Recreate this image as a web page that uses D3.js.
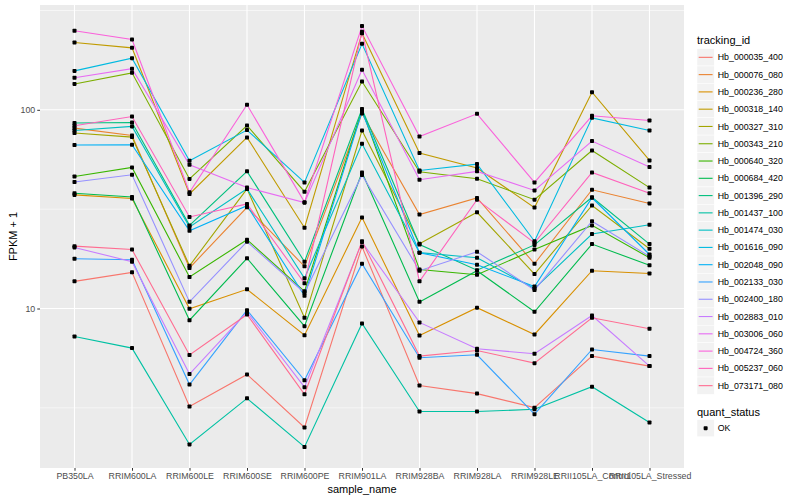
<!DOCTYPE html>
<html lang="en">
<head>
  <meta charset="UTF-8">
  <title>FPKM by sample</title>
  <script src="https://d3js.org/d3.v7.min.js"></script>
  <style>
    body { margin: 0; background: #fff; }
    svg text { font-family: "Liberation Sans", Arial, sans-serif; }
  </style>
</head>
<body>
  <div id="chart"></div>
  <script>
    // sample names along the x axis
    const samples = ["PB350LA", "RRIM600LA", "RRIM600LE", "RRIM600SE", "RRIM600PE", "RRIM901LA",
                     "RRIM928BA", "RRIM928LA", "RRIM928LE", "RRII105LA_Control", "RRII105LA_Stressed"];

    const trackingIds = ["Hb_000035_400", "Hb_000076_080", "Hb_000236_280", "Hb_000318_140", "Hb_000327_310",
                         "Hb_000343_210", "Hb_000640_320", "Hb_000684_420", "Hb_001396_290", "Hb_001437_100",
                         "Hb_001474_030", "Hb_001616_090", "Hb_002048_090", "Hb_002133_030", "Hb_002400_180",
                         "Hb_002883_010", "Hb_003006_060", "Hb_004724_360", "Hb_005237_060", "Hb_073171_080"];

    // FPKM + 1 per sample, one array per gene
    const hb_000035_400 = [13.7, 15.2, 3.21, 4.66, 2.52, 20.5, 4.10, 3.73, 3.17, 5.76, 5.13];
    const hb_000076_080 = [80.9, 74.3, 16.0, 32.3, 16.3, 95.8, 29.7, 36.0, 16.8, 39.6, 33.8];
    const hb_000236_280 = [37.3, 35.8, 9.97, 12.5, 7.34, 28.7, 7.32, 10.1, 7.40, 15.5, 15.0];
    const hb_000318_140 = [218, 205, 37.7, 72.6, 25.5, 243, 60.6, 50.9, 32.2, 122.7, 55.6];
    const hb_000327_310 = [76.4, 72.9, 16.4, 40.0, 8.98, 78.7, 21.2, 30.5, 14.9, 33.0, 20.0];
    const hb_000343_210 = [135, 153.5, 44.9, 83.4, 38.7, 138.8, 48.8, 45.0, 35.3, 62.4, 40.6];
    const hb_000640_320 = [46.2, 51.3, 14.4, 22.2, 12.2, 100, 15.7, 14.8, 19.8, 26.2, 18.0];
    const hb_000684_420 = [38.0, 36.4, 8.73, 17.9, 8.15, 48.4, 10.8, 15.5, 9.63, 21.1, 16.5];
    const hb_001396_290 = [85.8, 86.4, 26.2, 49.0, 17.2, 101, 21.0, 15.6, 20.9, 36.3, 21.1];
    const hb_001437_100 = [7.23, 6.32, 2.07, 3.53, 2.01, 8.41, 3.03, 3.03, 3.11, 4.04, 2.67];
    const hb_001474_030 = [78.7, 82.5, 25.7, 40.0, 14.2, 67.5, 19.1, 18.0, 12.6, 23.7, 26.4];
    const hb_001616_090 = [157, 182, 55.4, 79.1, 43.1, 215, 49.5, 53.3, 21.8, 91.1, 78.7];
    const hb_002048_090 = [66.5, 66.7, 24.6, 32.9, 11.6, 97.7, 19.1, 16.6, 12.9, 36.1, 18.7];
    const hb_002133_030 = [17.8, 17.6, 4.14, 9.81, 4.35, 16.8, 5.65, 5.85, 2.94, 6.22, 5.76];
    const hb_002400_180 = [43.3, 47.1, 10.8, 21.7, 12.0, 47.0, 15.5, 19.3, 12.4, 27.5, 18.3];
    const hb_002883_010 = [20.3, 17.2, 4.68, 9.58, 4.02, 21.6, 8.51, 6.27, 5.92, 9.22, 5.13];
    const hb_003006_060 = [145, 161, 52.9, 40.6, 34.1, 159, 44.5, 49.0, 39.3, 69.6, 51.5];
    const hb_004724_360 = [250, 226, 38.5, 106, 34.3, 264, 73.4, 95.5, 43.1, 93.3, 88.4];
    const hb_005237_060 = [83.1, 92.5, 28.9, 33.6, 13.4, 247, 13.7, 35.3, 21.4, 48.4, 38.0];
    const hb_073171_080 = [20.6, 19.8, 5.83, 9.33, 3.70, 21.8, 5.76, 6.15, 5.31, 8.98, 7.91];

    const seriesValues = [hb_000035_400, hb_000076_080, hb_000236_280, hb_000318_140, hb_000327_310,
                          hb_000343_210, hb_000640_320, hb_000684_420, hb_001396_290, hb_001437_100,
                          hb_001474_030, hb_001616_090, hb_002048_090, hb_002133_030, hb_002400_180,
                          hb_002883_010, hb_003006_060, hb_004724_360, hb_005237_060, hb_073171_080];

    const quantStatus = ["OK"];
    const yTicks = [10, 100];

    // ggplot default hue palette for 20 levels
    const colors = ["#F8766D", "#EA8331", "#D89000", "#C09B00", "#A3A500", "#7CAE00", "#39B600",
                    "#00BB4E", "#00BF7D", "#00C1A3", "#00BFC4", "#00BAE0", "#00B0F6", "#35A2FF",
                    "#9590FF", "#C77CFF", "#E76BF3", "#FA62DB", "#FF62BC", "#FF6C91"];

    const width = 800, height = 500;
    const panel = { left: 40, right: 684, top: 5, bottom: 468 };

    const svg = d3.select("#chart").append("svg")
                  .attr("width", width)
                  .attr("height", height);

    const series = trackingIds.map((id, i) => ({
      id: id,
      color: colors[i],
      values: seriesValues[i].map((v, j) => ({ sample: samples[j], value: v }))
    }));

    // x: discrete with 0.6 expansion on both sides
    const x = d3.scalePoint()
                .domain(samples)
                .range([panel.left, panel.right])
                .padding(0.6);

    // y: log10 with 5% expansion in log space
    const allVals = seriesValues.flat();
    const lo = Math.log10(d3.min(allVals)), hi = Math.log10(d3.max(allVals));
    const pad = (hi - lo) * 0.05;
    const y = d3.scaleLog()
                .domain([Math.pow(10, lo - pad), Math.pow(10, hi + pad)])
                .range([panel.bottom, panel.top]);

    // panel background
    svg.append("rect")
       .attr("x", panel.left).attr("y", panel.top)
       .attr("width", panel.right - panel.left)
       .attr("height", panel.bottom - panel.top)
       .attr("fill", "#EBEBEB");

    // minor grid at the log midpoints
    const minor = [0.5, 1.5, 2.5].map(e => Math.pow(10, e))
                    .filter(v => v >= y.domain()[0] && v <= y.domain()[1]);
    svg.selectAll("line.minor")
       .data(minor)
       .join("line")
       .attr("x1", panel.left).attr("x2", panel.right)
       .attr("y1", d => y(d)).attr("y2", d => y(d))
       .attr("stroke", "#fff").attr("stroke-width", 0.55);

    svg.selectAll("line.majory")
       .data(yTicks)
       .join("line")
       .attr("x1", panel.left).attr("x2", panel.right)
       .attr("y1", d => y(d)).attr("y2", d => y(d))
       .attr("stroke", "#fff").attr("stroke-width", 1.1);

    svg.selectAll("line.majorx")
       .data(samples)
       .join("line")
       .attr("x1", d => x(d)).attr("x2", d => x(d))
       .attr("y1", panel.top).attr("y2", panel.bottom)
       .attr("stroke", "#fff").attr("stroke-width", 1.1);

    // lines
    const line = d3.line()
                   .x(d => x(d.sample))
                   .y(d => y(d.value));

    svg.append("g")
       .selectAll("path")
       .data(series)
       .join("path")
       .attr("d", d => line(d.values))
       .attr("fill", "none")
       .attr("stroke", d => d.color)
       .attr("stroke-width", 1.1);

    // points
    svg.append("g")
       .selectAll("rect")
       .data(series.flatMap(s => s.values))
       .join("rect")
       .attr("x", d => x(d.sample) - 2)
       .attr("y", d => y(d.value) - 2)
       .attr("width", 4).attr("height", 4)
       .attr("rx", 0.8)
       .attr("fill", "#000");

    // axes
    const xAxis = svg.append("g")
                     .attr("transform", `translate(0,${panel.bottom})`)
                     .call(d3.axisBottom(x).tickSize(2.75).tickPadding(2));
    const yAxis = svg.append("g")
                     .attr("transform", `translate(${panel.left},0)`)
                     .call(d3.axisLeft(y).tickValues(yTicks).tickFormat(d3.format("d")).tickSize(2.75).tickPadding(2));

    [xAxis, yAxis].forEach(a => {
      a.select(".domain").remove();
      a.selectAll(".tick line").attr("stroke", "#333");
      a.selectAll(".tick text").attr("fill", "#4D4D4D").style("font-size", "8.8px");
    });

    // axis titles
    svg.append("text")
       .attr("x", (panel.left + panel.right) / 2)
       .attr("y", 493)
       .attr("text-anchor", "middle")
       .style("font-size", "11px")
       .text("sample_name");

    svg.append("text")
       .attr("transform", `translate(17,${(panel.top + panel.bottom) / 2}) rotate(-90)`)
       .attr("text-anchor", "middle")
       .style("font-size", "11px")
       .text("FPKM + 1");

    // legend: tracking_id
    const legX = 697, keySize = 17.28, legTop = 48.7;
    svg.append("text")
       .attr("x", legX).attr("y", 44)
       .style("font-size", "11px")
       .text("tracking_id");

    const keys = svg.append("g")
                    .selectAll("g")
                    .data(series)
                    .join("g")
                    .attr("transform", (d, i) => `translate(${legX},${legTop + i * keySize})`);

    keys.append("rect")
        .attr("width", keySize).attr("height", keySize)
        .attr("fill", "#F2F2F2").attr("stroke", "#fff").attr("stroke-width", 0.5);
    keys.append("line")
        .attr("x1", 1.7).attr("x2", keySize - 1.7)
        .attr("y1", keySize / 2).attr("y2", keySize / 2)
        .attr("stroke", d => d.color).attr("stroke-width", 1.1);
    keys.append("text")
        .attr("x", keySize + 3.5).attr("y", keySize / 2)
        .attr("dy", "0.35em")
        .style("font-size", "8.8px")
        .text(d => d.id);

    // legend: quant_status
    svg.append("text")
       .attr("x", legX).attr("y", 416)
       .style("font-size", "11px")
       .text("quant_status");

    const status = svg.append("g")
                      .selectAll("g")
                      .data(quantStatus)
                      .join("g")
                      .attr("transform", (d, i) => `translate(${legX},${419.5 + i * keySize})`);
    status.append("rect")
          .attr("width", keySize).attr("height", keySize)
          .attr("fill", "#F2F2F2").attr("stroke", "#fff").attr("stroke-width", 0.5);
    status.append("rect")
          .attr("x", keySize / 2 - 2).attr("y", keySize / 2 - 2)
          .attr("width", 4).attr("height", 4).attr("rx", 0.8)
          .attr("fill", "#000");
    status.append("text")
          .attr("x", keySize + 3.5).attr("y", keySize / 2)
          .attr("dy", "0.35em")
          .style("font-size", "8.8px")
          .text(d => d);
  </script>
</body>
</html>
